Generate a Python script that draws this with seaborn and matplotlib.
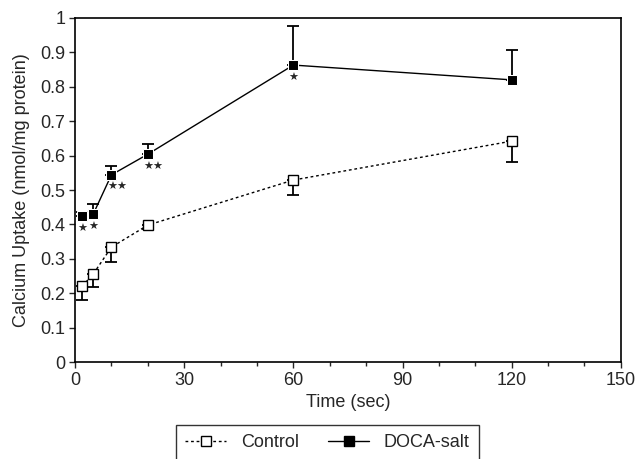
import numpy as np
import pandas as pd
import matplotlib
matplotlib.use("Agg")
import matplotlib.pyplot as plt
import seaborn as sns
from matplotlib.lines import Line2D

# Data
time = [2, 5, 10, 20, 60, 120]
control = [0.221, 0.256, 0.334, 0.398, 0.529, 0.642]
control_err = [0.041, 0.038, 0.044, 0.012, 0.044, 0.061]   # lower bars only
doca = [0.424, 0.430, 0.544, 0.604, 0.863, 0.820]
doca_err = [0.012, 0.029, 0.026, 0.030, 0.114, 0.087]      # upper bars only
stars = ["\u2605", "\u2605", "\u2605\u2605", "\u2605\u2605", "\u2605", ""]

sns.set_style("ticks")
plt.rcParams['font.family'] = ['Liberation Sans', 'DejaVu Sans']

df = pd.DataFrame({
    "time": time * 2,
    "uptake": control + doca,
    "group": ["Control"] * len(time) + ["DOCA-salt"] * len(time),
})

fig = plt.figure(figsize=(6.38, 4.59), dpi=100)
ax = fig.add_axes([0.1176, 0.211, 0.8555, 0.750])

sns.lineplot(data=df, x="time", y="uptake", hue="group", style="group",
             palette=["black", "black"], dashes={"Control": (2, 2), "DOCA-salt": ""},
             markers={"Control": "s", "DOCA-salt": "s"}, markersize=6.5,
             linewidth=1, ax=ax, legend=False)

# open squares for control, filled for DOCA-salt
ax.lines[0].set_markerfacecolor("white")
ax.lines[0].set_markeredgecolor("black")
ax.lines[0].set_markeredgewidth(1)
ax.lines[1].set_markerfacecolor("black")

ax.errorbar(time, control, yerr=[control_err, [0] * len(time)], fmt="none",
            ecolor="black", elinewidth=1.3, capsize=4, capthick=1.3, zorder=1)
ax.errorbar(time, doca, yerr=[[0] * len(time), doca_err], fmt="none",
            ecolor="black", elinewidth=1.3, capsize=4, capthick=1.3, zorder=1)

for t, v, s in zip(time, doca, stars):
    if s:
        dx = 4 if len(s) > 1 else 0
        ax.annotate(s, (t, v), xytext=(dx, -9), textcoords="offset points",
                    ha="center", va="center", fontsize=8,
                    family=["DejaVu Sans"])

ax.set_xlim(0, 150)
ax.set_ylim(0, 1)
ax.set_xticks(np.arange(0, 151, 30))
ax.set_xticks(np.arange(0, 151, 10), minor=True)
ax.set_yticks(np.arange(0, 1.01, 0.1))
ax.set_yticklabels(["0"] + [f"{v:.1f}" for v in np.arange(0.1, 0.95, 0.1)] + ["1"])
ax.tick_params(axis="both", which="both", direction="out", length=4, width=1,
               labelsize=13, pad=3)
ax.tick_params(axis="x", which="minor", length=3)
for sp in ax.spines.values():
    sp.set_visible(True)
    sp.set_linewidth(1.2)
    sp.set_color("black")

ax.set_xlabel("Time (sec)", fontsize=13, labelpad=4)
ax.set_ylabel("Calcium Uptake (nmol/mg protein)", fontsize=13, labelpad=7)

handles = [
    Line2D([], [], color="black", lw=1, ls=(0, (2, 2)), marker="s", markersize=6.5,
           markerfacecolor="white", markeredgecolor="black"),
    Line2D([], [], color="black", lw=1, marker="s", markersize=6.5,
           markerfacecolor="black"),
]
leg = fig.legend(handles, ["Control", "DOCA-salt"], loc="upper center",
                 bbox_to_anchor=(0.513, 0.074), borderaxespad=0, ncol=2, fontsize=13,
                 frameon=True, fancybox=False, edgecolor="black",
                 handlelength=2.3, columnspacing=1.6, borderpad=0.5)
leg.get_frame().set_linewidth(1)

fig.savefig("out.png", dpi=100)
